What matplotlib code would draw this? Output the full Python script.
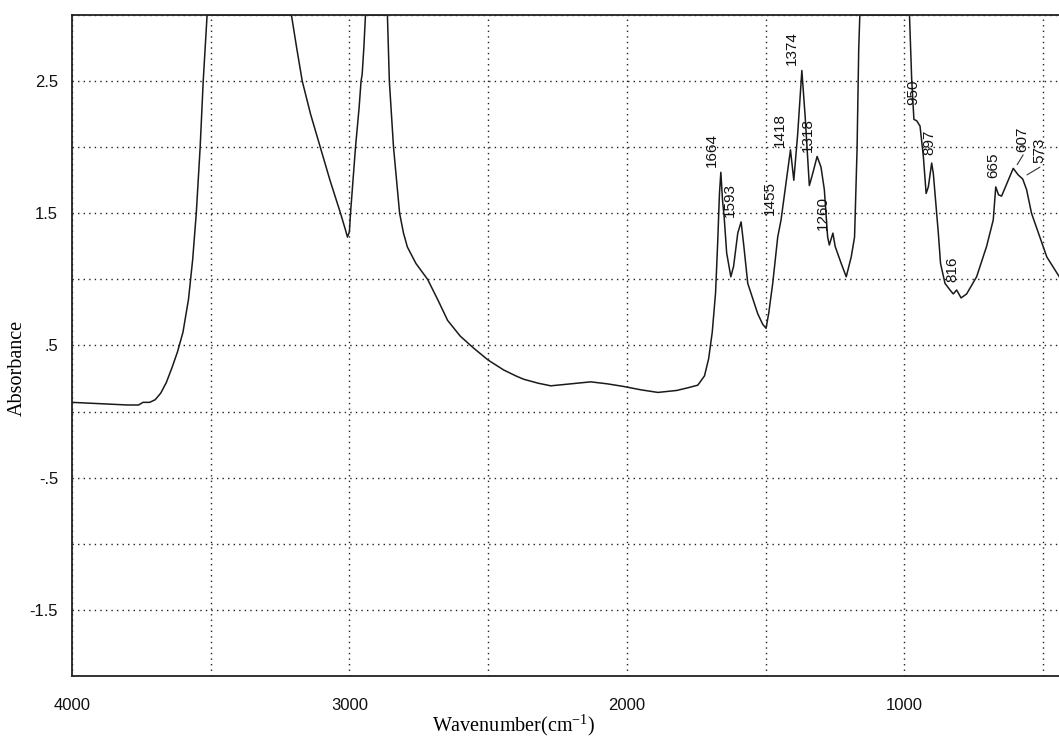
import numpy as np
import matplotlib
matplotlib.use('Agg')
import matplotlib.pyplot as plt
from matplotlib.ticker import FixedLocator, FuncFormatter

plt.rcParams['font.family'] = ['Liberation Sans', 'DejaVu Sans']
plt.rcParams['mathtext.fontset'] = 'custom'
plt.rcParams['mathtext.rm'] = 'Liberation Serif'

# IR spectrum (off-scale parts held at the 3.0 ceiling)
wavenumber = [4000, 3950, 3900, 3850, 3800, 3760, 3744, 3720, 3700, 3680,
              3660, 3640, 3620, 3600, 3580, 3565, 3552, 3538, 3527, 3513,
              3209, 3190, 3170, 3140, 3105, 3070, 3032, 3015, 3007, 3000,
              2996, 2985, 2978, 2965, 2958, 2954, 2948, 2942, 2863, 2856,
              2841, 2819, 2805, 2791, 2760, 2718, 2680, 2646, 2600, 2552,
              2500, 2444, 2400, 2372, 2320, 2274, 2200, 2130, 2070, 2011,
              1950, 1888, 1820, 1780, 1744, 1720, 1705, 1692, 1680, 1672,
              1666, 1661, 1655, 1649, 1640, 1625, 1615, 1600, 1588, 1578,
              1564, 1528, 1510, 1498, 1488, 1474, 1456, 1444, 1426, 1410,
              1398, 1384, 1369, 1357, 1342, 1330, 1314, 1300, 1288, 1276,
              1270, 1257, 1249, 1227, 1209, 1191, 1179, 1170, 1164, 1160,
              981, 973, 965, 955, 943, 931, 921, 913, 901, 895,
              885, 877, 869, 853, 835, 823, 811, 795, 775, 739,
              703, 679, 670, 660, 649, 625, 607, 589, 573, 559,
              541, 516, 486, 456, 441]
absorbance = [0.07, 0.065, 0.06, 0.055, 0.05, 0.05, 0.07, 0.07, 0.09, 0.14,
              0.22, 0.33, 0.45, 0.60, 0.85, 1.15, 1.50, 2.00, 2.50, 3.00,
              3.00, 2.75, 2.50, 2.25, 2.00, 1.75, 1.50, 1.38, 1.32, 1.36,
              1.50, 1.80, 2.00, 2.30, 2.50, 2.55, 2.75, 3.00, 3.00, 2.50,
              2.00, 1.50, 1.35, 1.245, 1.12, 1.00, 0.84, 0.69, 0.57, 0.48,
              0.39, 0.315, 0.27, 0.245, 0.215, 0.195, 0.21, 0.225, 0.21, 0.19,
              0.165, 0.145, 0.16, 0.18, 0.20, 0.27, 0.40, 0.60, 0.90, 1.30,
              1.65, 1.81, 1.60, 1.47, 1.20, 1.02, 1.10, 1.35, 1.435, 1.25,
              0.97, 0.74, 0.66, 0.63, 0.75, 0.97, 1.32, 1.45, 1.73, 1.98,
              1.75, 2.10, 2.58, 2.23, 1.71, 1.80, 1.93, 1.85, 1.68, 1.32,
              1.26, 1.35, 1.25, 1.12, 1.02, 1.17, 1.32, 1.98, 2.74, 3.00,
              3.00, 2.51, 2.21, 2.20, 2.16, 1.93, 1.65, 1.70, 1.88, 1.80,
              1.55, 1.35, 1.12, 0.97, 0.92, 0.89, 0.92, 0.86, 0.89, 1.02,
              1.25, 1.45, 1.70, 1.64, 1.63, 1.75, 1.84, 1.79, 1.76, 1.68,
              1.50, 1.35, 1.17, 1.07, 1.02]

# peak labels and where each one sits (label centre x, label bottom y)
peak_labels = ['1664', '1593', '1455', '1418', '1374', '1318', '1260',
               '950', '897', '816', '665', '607', '573']
label_x = [1693, 1628, 1484, 1448, 1404, 1347, 1293, 968, 911, 828, 680, 575, 514]
label_y = [1.85, 1.47, 1.49, 2.00, 2.62, 1.96, 1.37, 2.32, 1.94, 0.98, 1.77, 1.96, 1.88]
# leader lines for the crowded pair on the right
leader_from = {'607': (566, 1.96), '573': (502, 1.86)}
leader_to = {'607': (598, 1.85), '573': (566, 1.78)}

fig = plt.figure(figsize=(10.59, 7.38), dpi=100)
ax = fig.add_axes([72 / 1059, 62 / 738, 987 / 1059, 661 / 738])

ax.plot(wavenumber, absorbance, color='#1a1a1a', lw=1.1)

ax.set_xlim(4000, 442)
ax.set_ylim(-2, 3)

ax.xaxis.set_major_locator(FixedLocator(np.arange(4000, 400, -500)))
ax.xaxis.set_major_formatter(FuncFormatter(lambda v, p: '%d' % v if v % 1000 == 0 else ''))
ax.yaxis.set_major_locator(FixedLocator(np.arange(-2, 3.01, 0.5)))


def ylab(v, p):
    if abs(v * 2) % 2 != 1:
        return ''
    s = '%g' % v
    return s.replace('0.', '.')


ax.yaxis.set_major_formatter(FuncFormatter(ylab))
ax.tick_params(axis='both', length=0, labelsize=12, colors='#111111')
ax.tick_params(axis='x', pad=16)
ax.tick_params(axis='y', pad=10)

ax.grid(True, color='#222222', linestyle=(0, (1, 3)), lw=1.0)
for s in ['left', 'top', 'bottom']:
    ax.spines[s].set_linewidth(1.3)
    ax.spines[s].set_color('#222222')
ax.spines['right'].set_visible(False)

for txt, x, y in zip(peak_labels, label_x, label_y):
    ax.text(x, y, txt, rotation=90, ha='center', va='bottom', fontsize=11,
            color='#111111')
for key in leader_from:
    ax.annotate('', xy=leader_to[key], xytext=leader_from[key],
                arrowprops=dict(arrowstyle='-', color='#333333', lw=0.8))

ax.set_ylabel('Absorbance', family='Liberation Serif', fontsize=14.5)
ax.yaxis.set_label_coords(-0.0456, 0.466)
ax.set_xlabel('Wavenumber(cm$^{-1}$)', family='Liberation Serif', fontsize=14.5)
ax.xaxis.set_label_coords(0.447, -0.054)

fig.savefig('out.png', dpi=100)
